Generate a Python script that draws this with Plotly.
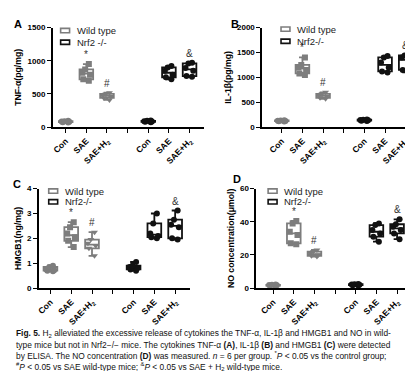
import plotly.graph_objects as go

W, H = 413, 371

groups = ["Con", "SAE", "SAE+H<sub>2</sub>"]
tick_labels = ["<b>Con</b>", "<b>SAE</b>", "<b>SAE+H<sub>2</sub></b>", "",
               "<b>Con</b>", "<b>SAE</b>", "<b>SAE+H<sub>2</sub></b>"]
wt_pos = [0, 1, 2]
ko_pos = [4, 5, 6]

# Panel A: TNF-alpha (pg/mg)
tnf_wt = [
    [70, 75, 80, 85, 90, 95],
    [950, 870, 820, 790, 720, 700],
    [520, 500, 480, 460, 440, 410],
]
tnf_ko = [
    [75, 80, 85, 90, 95, 100],
    [920, 900, 850, 790, 750, 720],
    [970, 960, 890, 850, 770, 760],
]
# Panel B: IL-1beta (pg/mg)
il_wt = [
    [115, 120, 125, 130, 135, 140],
    [1400, 1250, 1200, 1150, 1080, 1050],
    [700, 670, 640, 620, 590, 570],
]
il_ko = [
    [125, 130, 140, 145, 150, 155],
    [1430, 1400, 1300, 1200, 1120, 1100],
    [1450, 1440, 1400, 1300, 1150, 1100],
]
# Panel C: HMGB1 (ng/mg)
hmgb_wt = [
    [0.68, 0.70, 0.72, 0.75, 0.85, 0.90],
    [2.65, 2.45, 2.20, 2.05, 1.90, 1.65],
    [2.25, 1.95, 1.80, 1.70, 1.60, 1.30],
]
hmgb_ko = [
    [0.70, 0.75, 0.80, 0.85, 0.90, 1.05],
    [3.00, 2.60, 2.20, 2.10, 2.05, 2.00],
    [3.12, 2.75, 2.55, 2.45, 2.00, 1.95],
]
# Panel D: NO concentration (umol)
no_wt = [
    [1.2, 1.5, 1.7, 1.9, 2.0, 2.2],
    [40.5, 39.0, 34.0, 32.0, 27.0, 26.5],
    [23.0, 22.0, 21.0, 20.0, 19.5, 19.0],
]
no_ko = [
    [1.6, 1.8, 2.0, 2.2, 2.4, 2.5],
    [39.0, 38.0, 35.0, 33.0, 31.0, 28.0],
    [41.5, 38.5, 37.0, 35.0, 33.0, 29.5],
]

panels = [
    dict(letter="A", wt=tnf_wt, ko=tnf_ko, ytitle="TNF-α(pg/mg)", yrange=[0, 1500],
         yticks=[0, 500, 1000, 1500], ko_name="Nrf2 -/-",
         px=(42, 194), py=(16, 118), xr=[-0.63, 6.68], lpos=(7, 12),
         leg=(50, 19, 31)),
    dict(letter="B", wt=il_wt, ko=il_ko, ytitle="IL-1β(pg/mg)", yrange=[0, 2000],
         yticks=[0, 500, 1000, 1500, 2000], ko_name="Nrf2-/-",
         px=(253, 413), py=(16, 118), xr=[-0.95, 6.74], lpos=(226, 12),
         leg=(272, 17.5, 30)),
    dict(letter="C", wt=hmgb_wt, ko=hmgb_ko, ytitle="HMGB1(ng/mg)", yrange=[0, 4],
         yticks=[0, 1, 2, 3, 4], ko_name="Nrf2-/-",
         px=(28, 180), py=(181, 283), xr=[-0.56, 6.70], lpos=(6, 176),
         leg=(38, 183.5, 194.5)),
    dict(letter="D", wt=no_wt, ko=no_ko, ytitle="NO concentration(μmol)", yrange=[0, 60],
         yticks=[0, 20, 40, 60], ko_name="Nrf2-/-",
         px=(247, 402), py=(181, 283), xr=[-0.82, 6.63], lpos=(228, 171),
         leg=(259, 183.5, 194.5)),
]

GRAY = "#7d7d7d"
BLACK = "#111111"
FONT = "Liberation Sans, Arial, sans-serif"
wt_symbols = ["circle", "square", "triangle-down"]

fig = go.Figure()
annotations = []
shapes = []

def fx(p):
    return p / W

def fy(p):
    return 1 - p / H

for i, p in enumerate(panels):
    n = i + 1
    xa = "x" if n == 1 else f"x{n}"
    ya = "y" if n == 1 else f"y{n}"
    for genotype, data, pos, color in (("wt", p["wt"], wt_pos, GRAY), ("ko", p["ko"], ko_pos, BLACK)):
        for g, (vals, xpos) in enumerate(zip(data, pos)):
            fig.add_trace(go.Box(
                x=[xpos] * len(vals), y=vals, xaxis=xa, yaxis=ya,
                width=0.66, boxpoints="all", jitter=0.7, pointpos=0,
                quartilemethod="exclusive",
                fillcolor="rgba(255,255,255,0)",
                line=dict(color=color, width=1.8),
                marker=dict(color=color, size=6,
                            symbol=wt_symbols[g] if genotype == "wt" else "circle"),
                whiskerwidth=0.5,
                showlegend=False, hoverinfo="y",
            ))
    # significance marks
    marks = [("*", wt_pos[1], max(p["wt"][1]), "#333333"),
             ("#", wt_pos[2], max(p["wt"][2]), "#333333"),
             ("&", ko_pos[2], max(p["ko"][2]), "#333333")]
    for txt, xpos, ymax, col in marks:
        annotations.append(dict(x=xpos, y=ymax, xref=xa, yref=ya, text=txt,
                                showarrow=False, yanchor="bottom", yshift=2,
                                font=dict(family=FONT, size=10, color=col)))
    # layout axes
    fig.update_layout(**{
        ("xaxis" if n == 1 else f"xaxis{n}"): dict(
            domain=[fx(p["px"][0]), fx(min(p["px"][1], W))], range=p["xr"],
            anchor=ya, tickmode="array", tickvals=list(range(7)), ticktext=tick_labels,
            tickangle=-45, ticks="outside", ticklen=4, tickwidth=1.2, tickcolor="black",
            showline=True, linecolor="black", linewidth=1.5, showgrid=False, zeroline=False,
            tickfont=dict(family=FONT, size=8.5, color="black"),
        ),
        ("yaxis" if n == 1 else f"yaxis{n}"): dict(
            domain=[fy(p["py"][1]), fy(p["py"][0])], range=p["yrange"],
            anchor=xa, tickmode="array", tickvals=p["yticks"],
            ticktext=["<b>%g</b>" % v for v in p["yticks"]],
            ticks="outside", ticklen=4, tickwidth=1.2, tickcolor="black",
            showline=True, linecolor="black", linewidth=1.5, showgrid=False, zeroline=False,
            tickfont=dict(family=FONT, size=8, color="black"),
            title=dict(text="<b>" + p["ytitle"] + "</b>", standoff=4,
                       font=dict(family=FONT, size=8.7, color="black")),
        ),
    })
    # panel letter
    annotations.append(dict(x=fx(p["lpos"][0]), y=fy(p["lpos"][1]), xref="paper", yref="paper",
                            text="<b>" + p["letter"] + "</b>", showarrow=False,
                            xanchor="center", yanchor="middle",
                            font=dict(family=FONT, size=11, color="black")))
    # legend drawn as swatches + text
    lx, ly1, ly2 = p["leg"]
    for ly, col, name in ((ly1, GRAY, "Wild type"), (ly2, BLACK, p["ko_name"])):
        shapes.append(dict(type="rect", xref="paper", yref="paper",
                           x0=fx(lx), x1=fx(lx + 9), y0=fy(ly + 2.2), y1=fy(ly - 2.2),
                           line=dict(color=col, width=1.6), fillcolor="white"))
        annotations.append(dict(x=fx(lx + 14), y=fy(ly), xref="paper", yref="paper",
                                text=name, showarrow=False, xanchor="left", yanchor="middle",
                                font=dict(family=FONT, size=9.5, color="#222222")))

caption_lines = [
    "<b>Fig. 5.</b> H<sub>2</sub> alleviated the excessive release of cytokines the TNF-α, IL-1β and HMGB1 and NO in wild-",
    "type mice but not in Nrf2−/− mice. The cytokines TNF-α <b>(A)</b>, IL-1β <b>(B)</b> and HMGB1 <b>(C)</b> were detected",
    "by ELISA. The NO concentration <b>(D)</b> was measured. <i>n</i> = 6 per group. <sup>*</sup><i>P</i> &lt; 0.05 vs the control group;",
    "<sup>#</sup><i>P</i> &lt; 0.05 vs SAE wild-type mice; <sup>&amp;</sup><i>P</i> &lt; 0.05 vs SAE + H<sub>2</sub> wild-type mice.",
]
caption_y = [330, 341.5, 352.5, 363]
for line, cy in zip(caption_lines, caption_y):
    annotations.append(dict(x=fx(3), y=fy(cy), xref="paper", yref="paper", text=line,
                            showarrow=False, xanchor="left", yanchor="middle",
                            font=dict(family=FONT, size=8.4, color="#111111")))

fig.update_layout(
    width=W, height=H, autosize=False,
    margin=dict(l=0, r=0, t=0, b=0),
    paper_bgcolor="white", plot_bgcolor="white",
    annotations=annotations, shapes=shapes,
    showlegend=False,
)

fig.write_html("out.html")
